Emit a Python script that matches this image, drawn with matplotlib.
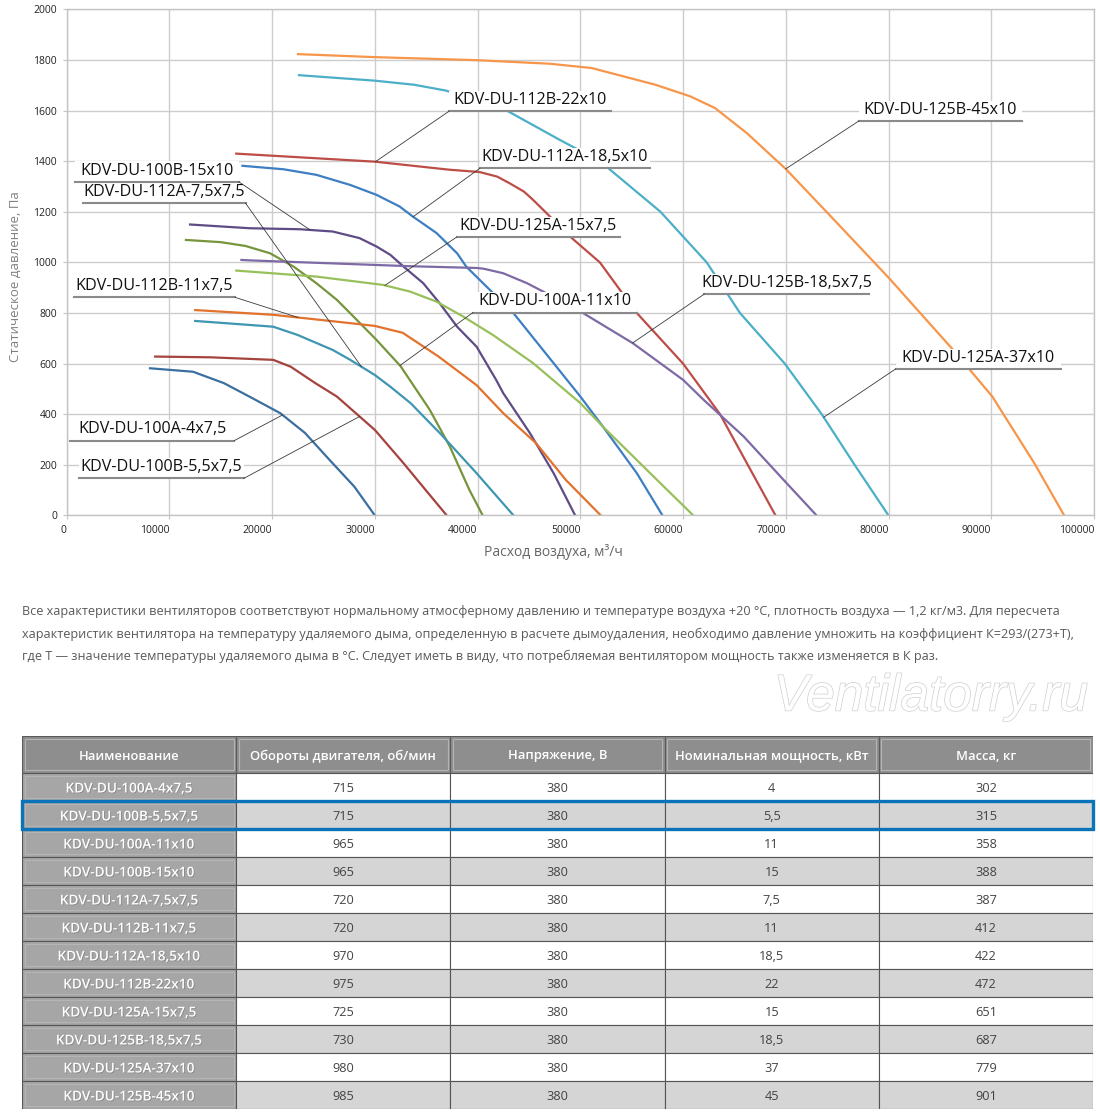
import numpy as np
import matplotlib
matplotlib.use('Agg')
import matplotlib.pyplot as plt
from matplotlib.patches import Rectangle
import matplotlib.patheffects as pe

plt.rcParams['font.family'] = ['Open Sans', 'DejaVu Sans']

# ------------------------------------------------------------
# Кривые P(Q): расход, м3/ч и статическое давление, Па
# ------------------------------------------------------------
q_100a_4 = [8000, 12300, 15300, 18100, 20800, 23200, 25600, 28000, 30000]
p_100a_4 = [582, 568, 523, 463, 404, 326, 219, 114, 0]

q_100b_55 = [8500, 14000, 20100, 21800, 24200, 26300, 30000, 32800, 35200, 37000]
p_100b_55 = [628, 625, 615, 588, 523, 470, 338, 206, 88, 0]

q_112a_75 = [11500, 15000, 17400, 19800, 22100, 24300, 26300, 27600, 30150, 32500, 35350, 37300, 39200, 40500]
p_112a_75 = [1089, 1080, 1065, 1036, 983, 918, 852, 799, 694, 590, 417, 272, 101, 0]

q_teal = [12400, 20100, 22500, 25900, 27600, 30000, 31500, 33500, 36500, 39900, 43500]
p_teal = [769, 746, 713, 654, 615, 555, 509, 443, 318, 167, 0]

q_purple_d = [11900, 17800, 22700, 25900, 28500, 30150, 31500, 32800, 34700, 36300, 38000,
              39900, 41800, 42500, 45100, 47400, 49500]
p_purple_d = [1150, 1135, 1131, 1122, 1096, 1063, 1030, 983, 918, 839, 746,
              667, 536, 483, 325, 167, 0]

q_orange_d = [12400, 20100, 27600, 30000, 32700, 36200, 39900, 42500, 45700, 48600, 52000]
p_orange_d = [812, 793, 760, 749, 722, 628, 515, 404, 285, 140, 0]

q_blue = [17000, 21100, 24300, 27600, 30150, 32400, 33700, 36000, 38000, 38900, 41200, 43500,
          50000, 52200, 55500, 58000]
p_blue = [1382, 1368, 1346, 1306, 1267, 1221, 1181, 1116, 1036, 983, 891, 799,
          470, 351, 167, 0]

q_green_l = [16400, 24300, 30800, 33400, 36000, 38600, 41500, 45400, 50000, 52200, 56800, 61000]
p_green_l = [968, 944, 911, 885, 845, 786, 713, 602, 444, 351, 167, 0]

q_red = [16400, 30000, 37300, 40200, 41900, 43100, 44500, 45400, 46700, 49000, 51900, 55500,
         60000, 63600, 66300, 69000]
p_red = [1430, 1398, 1366, 1357, 1339, 1313, 1280, 1247, 1195, 1102, 1000, 800,
         600, 400, 200, 0]

q_purple_l = [16900, 17800, 33400, 39900, 40600, 42500, 44800, 46700, 50300, 55100, 60000, 62000,
              65900, 69800, 73000]
p_purple_l = [1010, 1008, 985, 978, 975, 957, 918, 878, 799, 681, 536, 457,
              312, 140, 0]

q_aqua = [22500, 30000, 33800, 36900, 42700, 48000, 51900, 57800, 62300, 65540, 69900, 73500, 76700, 80000]
p_aqua = [1740, 1718, 1702, 1679, 1603, 1484, 1400, 1200, 1000, 800, 600, 400, 200, 0]

q_orange_l = [22400, 30000, 39900, 47000, 51100, 57300, 60700, 63100, 66200, 70000, 74400, 80000,
              86300, 90100, 94200, 97100]
p_orange_l = [1823, 1811, 1799, 1785, 1768, 1702, 1656, 1610, 1511, 1369, 1181, 940,
              654, 470, 206, 0]

curves = [
    (q_100a_4, p_100a_4, '#3b6fa0'),
    (q_100b_55, p_100b_55, '#a5433e'),
    (q_112a_75, p_112a_75, '#76953c'),
    (q_teal, p_teal, '#3f96b2'),
    (q_purple_d, p_purple_d, '#5f4b85'),
    (q_orange_d, p_orange_d, '#e2722c'),
    (q_blue, p_blue, '#3d7fc2'),
    (q_green_l, p_green_l, '#98c05a'),
    (q_red, p_red, '#bc4d47'),
    (q_purple_l, p_purple_l, '#7d69a6'),
    (q_aqua, p_aqua, '#4cafc8'),
    (q_orange_l, p_orange_l, '#f7964a'),
]

# подписи: текст, номер кривой, Q точки на кривой, Q начала/конца подчеркивания, P подчеркивания, сторона выноски
labels = [
    ('KDV-DU-112B-22x10', 8, 30050, 37210, 52980, 1597, 'left'),
    ('KDV-DU-125B-45x10', 11, 69990, 77120, 92990, 1559, 'left'),
    ('KDV-DU-112A-18,5x10', 6, 33720, 40230, 56780, 1372, 'left'),
    ('KDV-DU-100B-15x10', 4, 23700, 850, 16730, 1319, 'right'),
    ('KDV-DU-112A-7,5x7,5', 3, 28690, 1540, 17410, 1234, 'right'),
    ('KDV-DU-125A-15x7,5', 7, 30980, 37960, 53860, 1100, 'left'),
    ('KDV-DU-112B-11x7,5', 5, 22530, 680, 16380, 862, 'right'),
    ('KDV-DU-100A-11x10', 2, 32440, 39550, 55470, 802, 'left'),
    ('KDV-DU-125B-18,5x7,5', 9, 55080, 62070, 78130, 875, 'left'),
    ('KDV-DU-125A-37x10', 10, 73690, 80690, 96740, 579, 'left'),
    ('KDV-DU-100A-4x7,5', 0, 21010, 320, 16320, 296, 'right'),
    ('KDV-DU-100B-5,5x7,5', 1, 28510, 1200, 17250, 147, 'right'),
]

note_lines = [
    'Все характеристики вентиляторов соответствуют нормальному атмосферному давлению и температуре воздуха +20 °С, плотность воздуха — 1,2 кг/м3. Для пересчета',
    'характеристик вентилятора на температуру удаляемого дыма, определенную в расчете дымоудаления, необходимо давление умножить на коэффициент К=293/(273+Т),',
    'где Т — значение температуры удаляемого дыма в °С. Следует иметь в виду, что потребляемая вентилятором мощность также изменяется в К раз.',
]

col_names = ['Наименование', 'Обороты двигателя, об/мин', 'Напряжение, В',
             'Номинальная мощность, кВт', 'Масса, кг']
models = ['KDV-DU-100A-4x7,5', 'KDV-DU-100B-5,5x7,5', 'KDV-DU-100A-11x10', 'KDV-DU-100B-15x10',
          'KDV-DU-112A-7,5x7,5', 'KDV-DU-112B-11x7,5', 'KDV-DU-112A-18,5x10', 'KDV-DU-112B-22x10',
          'KDV-DU-125A-15x7,5', 'KDV-DU-125B-18,5x7,5', 'KDV-DU-125A-37x10', 'KDV-DU-125B-45x10']
rpm = [715, 715, 965, 965, 720, 720, 970, 975, 725, 730, 980, 985]
voltage = [380] * 12
power = ['4', '5,5', '11', '15', '7,5', '11', '18,5', '22', '15', '18,5', '37', '45']
mass = [302, 315, 358, 388, 387, 412, 422, 472, 651, 687, 779, 901]
highlight_row = 1

# ------------------------------------------------------------
W, H = 1100, 1115
fig = plt.figure(figsize=(W / 100, H / 100), dpi=100)


def fx(px):
    return px / W


def fy(py):
    return 1 - py / H


ax = fig.add_axes([fx(66.7), fy(515.5), (1094 - 66.7) / W, (515.5 - 9.3) / H])

for q, p, c in curves:
    ax.plot(q, p, color=c, lw=1.6, solid_joinstyle='round', solid_capstyle='butt', zorder=2)

for text, ci, q_pt, x0, x1, p_line, side in labels:
    q_c, p_c, _ = curves[ci]
    p_pt = np.interp(q_pt, q_c, p_c)
    xs = x0 if side == 'left' else x1
    ax.add_patch(Rectangle((x0, p_line), x1 - x0, 80, facecolor='white', edgecolor='none', zorder=3))
    ax.plot([x0, x1], [p_line, p_line], color='#8a8a8a', lw=1.5, zorder=4)
    ax.plot([xs, q_pt], [p_line, p_pt], color='#3a3a3a', lw=0.6, zorder=4)
    ax.text((x0 + x1) / 2, p_line + 44, text, ha='center', va='center', fontsize=11.6,
            color='#111111', zorder=5)

ax.set_xlim(0, 100000)
ax.set_ylim(0, 2000)
xt = list(range(0, 100001, 10000))
ax.set_xticks(xt)
ax.set_xticklabels([str(v) for v in xt], ha='right')
ax.set_yticks(range(0, 2001, 200))
ax.grid(color='#cdcdcd', lw=1)
ax.set_axisbelow(True)
for s in ax.spines.values():
    s.set_color('#c4c4c4')
    s.set_linewidth(1)
ax.tick_params(labelsize=7.5, labelcolor='#222222', color='#c4c4c4', length=3, pad=4)

fig.text(fx(15), fy(277), 'Статическое давление, Па', rotation=90, ha='center', va='center',
         fontsize=9.5, color='#808080')
fig.text(fx(553), fy(552), 'Расход воздуха, м³/ч', ha='center', va='center',
         fontsize=10, color='#666666')

for i, line in enumerate(note_lines):
    fig.text(fx(22), fy(612 + 22 * i), line, ha='left', va='center', fontsize=9.05, color='#595959')

fig.text(fx(931), fy(697), 'Ventilatorry.ru', ha='center', va='center', fontsize=37,
         style='italic', family='Liberation Sans', color='white',
         path_effects=[pe.withStroke(linewidth=1.0, foreground='#cfcfcf')])

# ------------------------------------------------------------
# Таблица
# ------------------------------------------------------------
hdr = 37 / 28
tax = fig.add_axes([fx(22), fy(1109), (1093 - 22) / W, 373 / H])
tax.set_xlim(0, 5)
tax.set_ylim(12 + hdr, 0)
tax.axis('off')

for c, name in enumerate(col_names):
    tax.add_patch(Rectangle((c, 0), 1, hdr, facecolor='#8e8e8e', edgecolor='#5a5a5a', lw=0.8))
    tax.add_patch(Rectangle((c + 0.012, 0.1), 0.976, hdr - 0.2, facecolor='none',
                            edgecolor='#b4b4b4', lw=0.8))
    tax.text(c + 0.5, hdr / 2, name, ha='center', va='center_baseline', fontsize=9.4,
             color='white', weight='semibold')

for r in range(len(models)):
    y0 = hdr + r
    row = [models[r], rpm[r], voltage[r], power[r], mass[r]]
    for c, val in enumerate(row):
        if c == 0:
            fc = '#a6a6a6'
        else:
            fc = 'white' if r % 2 == 0 else '#d5d5d5'
        tax.add_patch(Rectangle((c, y0), 1, 1, facecolor=fc, edgecolor='#555555', lw=0.8))
        if c == 0:
            tax.add_patch(Rectangle((c + 0.012, y0 + 0.1), 0.976, 0.8, facecolor='none',
                                    edgecolor='#b8b8b8', lw=0.6))
            tax.text(c + 0.5, y0 + 0.5, str(val), ha='center', va='center_baseline', fontsize=9.8,
                     color='white', weight='semibold',
                     path_effects=[pe.withSimplePatchShadow(offset=(0.6, -0.6),
                                                            shadow_rgbFace='#777777', alpha=0.6)])
        else:
            tax.text(c + 0.5, y0 + 0.5, str(val), ha='center', va='center_baseline', fontsize=9.2,
                     color='#444444')

tax.add_patch(Rectangle((0, hdr + highlight_row), 5, 1, facecolor='none', edgecolor='#0b74b8',
                        lw=2.4, clip_on=False, zorder=5))

fig.savefig('out.png', dpi=100)
